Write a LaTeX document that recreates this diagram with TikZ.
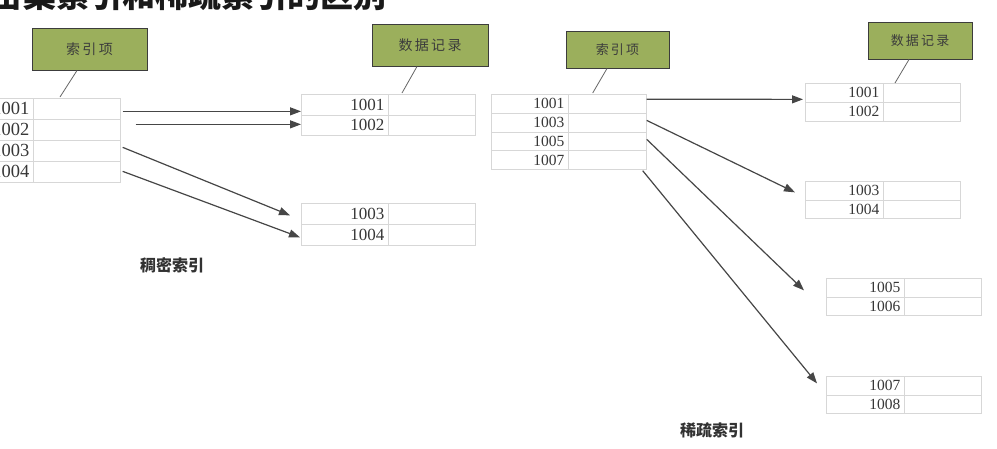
\documentclass[tikz,border=0pt]{standalone}
\usepackage{fontspec}
\setmainfont{Liberation Serif}
\newfontfamily\cjk{Noto Sans CJK SC}
\usetikzlibrary{arrows.meta,calc,shadows}
\definecolor{boxgreen}{RGB}{155,175,92}
\definecolor{tagborder}{RGB}{60,60,60}
\definecolor{cellgray}{RGB}{215,215,215}
\definecolor{numgray}{RGB}{55,55,55}
\definecolor{arrgray}{RGB}{70,70,70}
\definecolor{capgray}{RGB}{50,50,50}
\newcommand{\trow}[8]{%
  \pgfmathsetmacro\cwA{#3-(#2)}%
  \pgfmathsetmacro\cwB{#4-(#3)}%
  \pgfmathsetmacro\rhA{#6-(#5)}%
  \pgfmathsetmacro\twA{#3-(#2)-8}%
  \node[cell,anchor=north west,minimum width=\cwA pt,minimum height=\rhA pt,text width=\twA pt,align=right,font=\fontsize{#8}{#8}\selectfont] (#1k) at (#2,#5) {#7};
  \node[cell,anchor=north west,minimum width=\cwB pt,minimum height=\rhA pt] (#1v) at (#3,#5) {};
}
\begin{document}
\begin{tikzpicture}[x=1pt,y=-1pt,
  cell/.style={draw=cellgray, line width=0.7pt, inner sep=0pt, text=numgray},
  tag/.style={draw=tagborder, line width=1pt, fill=boxgreen, text=tagborder, inner sep=0pt,
    drop shadow={shadow xshift=1pt,shadow yshift=-1pt,opacity=0.3}},
  lead/.style={draw=gray!80!black, line width=0.8pt},
  arr/.style={draw=arrgray, line width=1.2pt, -{Triangle[length=11pt,width=8pt]}},
  captext/.style={font=\cjk\bfseries\fontsize{16}{16}\selectfont, text=capgray}]
\useasboundingbox (0,0) rectangle (997,448);
\fill[white] (0,0) rectangle (997,448);
\clip (0,0) rectangle (997,448);

% title (cut at the top)
\node[anchor=base west, inner sep=0pt, font=\cjk\bfseries\fontsize{33}{33}\selectfont, text=black!90] (title) at (-10,7) {密集索引和稀疏索引的区别};

% ---------- dense index ----------
\node[tag, minimum width=115pt, minimum height=42pt, font=\cjk\fontsize{14}{14}\selectfont] (lidx) at (89.5,49) {索\,引\,项};
\node[tag, minimum width=116pt, minimum height=42pt, font=\cjk\fontsize{14}{14}\selectfont] (ldat) at (430,45) {数\,据\,记\,录};

\trow{di1}{-60}{33}{120}{98}{119}{1001}{18.5}
\trow{di2}{-60}{33}{120}{119}{140}{1002}{18.5}
\trow{di3}{-60}{33}{120}{140}{161}{1003}{18.5}
\trow{di4}{-60}{33}{120}{161}{182}{1004}{18.5}

\trow{dd1}{301}{388}{475}{94}{114.5}{1001}{17}
\trow{dd2}{301}{388}{475}{114.5}{135}{1002}{17}
\trow{dd3}{301}{388}{475}{203}{224}{1003}{17}
\trow{dd4}{301}{388}{475}{224}{245}{1004}{17}

\draw[lead] ($(lidx.south)+(-12.5,0)$) -- ($(di1v.north west)+(27,-1)$);
\draw[lead] ($(ldat.south)+(-13,0)$) -- ($(dd1v.north west)+(14,-1)$);

\draw[arr] ($(di1v.east)+(2,2.5)$) -- ($(dd1k.west)+(0,6.75)$);
\draw[arr] ($(di2v.east)+(15,-5.5)$) -- ($(dd2k.west)+(0,-0.75)$);
\draw[arr] ($(di3v.east)+(2,-3.5)$) -- ($(dd3k.west)+(-11,1.5)$);
\draw[arr] ($(di4v.east)+(2,-0.5)$) -- ($(dd4k.west)+(-1,2.5)$);

\node[captext] (capd) at (172,265) {稠密索引};

% ---------- sparse index ----------
\node[tag, minimum width=103pt, minimum height=37pt, font=\cjk\fontsize{13}{13}\selectfont] (ridx) at (617.5,49.5) {索\,引\,项};
\node[tag, minimum width=104pt, minimum height=37pt, font=\cjk\fontsize{13}{13}\selectfont] (rdat) at (920,40.5) {数\,据\,记\,录};

\trow{si1}{491}{568}{646}{94}{112.75}{1001}{15.5}
\trow{si2}{491}{568}{646}{112.75}{131.5}{1003}{15.5}
\trow{si3}{491}{568}{646}{131.5}{150.25}{1005}{15.5}
\trow{si4}{491}{568}{646}{150.25}{169}{1007}{15.5}

\trow{sd1}{805}{883}{960}{83}{102}{1001}{15.5}
\trow{sd2}{805}{883}{960}{102}{121}{1002}{15.5}
\trow{sd3}{805}{883}{960}{181}{199.5}{1003}{15.5}
\trow{sd4}{805}{883}{960}{199.5}{218}{1004}{15.5}
\trow{sd5}{826}{904}{981}{278}{296.5}{1005}{15.5}
\trow{sd6}{826}{904}{981}{296.5}{315}{1006}{15.5}
\trow{sd7}{826}{904}{981}{376}{394.5}{1007}{15.5}
\trow{sd8}{826}{904}{981}{394.5}{413}{1008}{15.5}

\draw[lead] ($(ridx.south)+(-10.5,0)$) -- ($(si1k.north east)+(24,-1)$);
\draw[lead] ($(rdat.south)+(-11,0)$) -- ($(sd1v.north west)+(12,0)$);

\draw[arr] ($(si1v.east)+(0,-4.4)$) -- ($(sd1k.west)+(-2,6.5)$);
\draw[arr] ($(si2v.east)+(0,-2.1)$) -- ($(sd3k.west)+(-10,1.75)$);
\draw[arr] ($(si3v.east)+(0,-1.9)$) -- ($(sd5k.west)+(-22,2.75)$);
\draw[arr] ($(si4v.south east)+(-4,1)$) -- ($(sd7k.west)+(-9,-2.25)$);

\node[captext] (caps) at (712,430) {稀疏索引};
\end{tikzpicture}
\end{document}
